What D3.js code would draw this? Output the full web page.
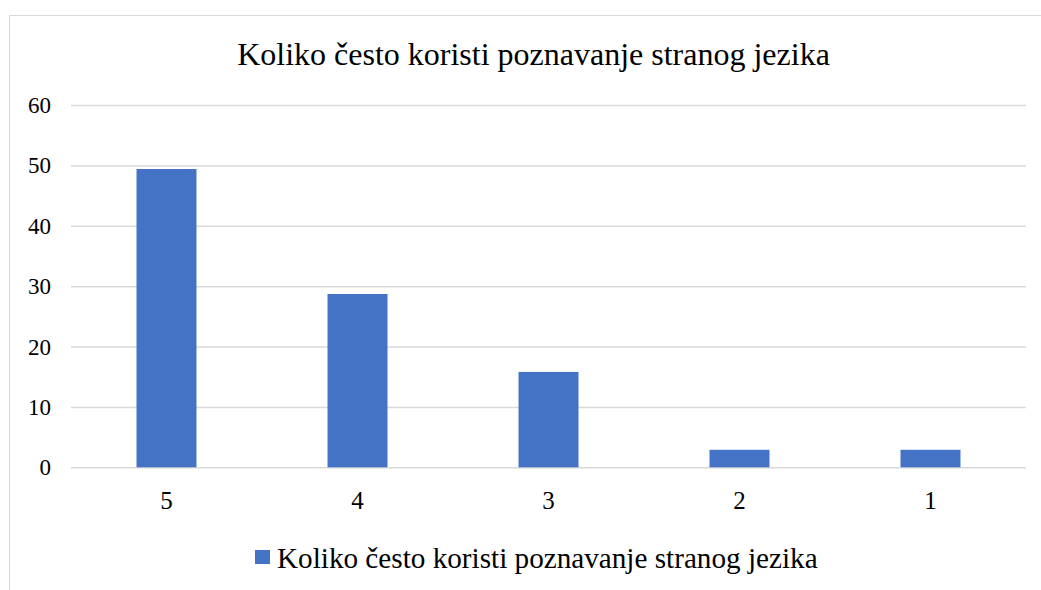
<!DOCTYPE html>
<html><head><meta charset="utf-8">
<script src="https://cdn.jsdelivr.net/npm/d3@7"></script>
<style>body{margin:0;background:#fff}svg{display:block}</style>
</head><body>
<script>
const title = "Koliko često koristi poznavanje stranog jezika";
const categories = ["5","4","3","2","1"];
const values = [49.4, 28.7, 15.8, 2.9, 2.9];
const yTicks = [0,10,20,30,40,50,60];
const seriesName = "Koliko često koristi poznavanje stranog jezika";

(function(){
const W = 1041, H = 590;
const svg = d3.select("body").append("svg").attr("width", W).attr("height", H);
const font = "'Liberation Serif','Times New Roman',serif";

svg.append("path").attr("d", `M9.5,${H} L9.5,15.5 L${W},15.5`).attr("fill","none").attr("stroke","#d9d9d9").attr("stroke-width",1);

const pL = 71, pR = 1026, pT = 105, pB = 467.3;
const x = d3.scaleBand().domain(categories).range([pL, pR]).paddingInner(0.686).paddingOuter(0.343);
const y = d3.scaleLinear().domain([0,60]).range([pB, pT]);

const yAxis = svg.append("g").attr("transform", `translate(${pL},0)`)
  .call(d3.axisLeft(y).tickValues(yTicks).tickSize(-(pR-pL)).tickPadding(20));
yAxis.select(".domain").remove();
yAxis.selectAll("line").attr("stroke","#d9d9d9").attr("stroke-width",1.5);
yAxis.selectAll("text").attr("font-family",font).attr("font-size",23).attr("fill","#000").attr("dy","0.33em");

svg.selectAll("rect.bar").data(values).join("rect").attr("class","bar")
  .attr("x",(d,i)=>x(categories[i])).attr("width",x.bandwidth())
  .attr("y",d=>y(d)).attr("height",d=>pB-y(d))
  .attr("fill","#4472C4");

const xAxis = svg.append("g").attr("transform", `translate(0,${pB})`)
  .call(d3.axisBottom(x).tickSize(0).tickPadding(24));
xAxis.select(".domain").remove();
xAxis.selectAll("text").attr("font-family",font).attr("font-size",25).attr("fill","#000");

svg.append("text").attr("x",533.5).attr("y",65).attr("text-anchor","middle")
  .attr("font-family",font).attr("font-size",32).attr("fill","#000").text(title);

const lg = svg.append("g");
lg.append("rect").attr("x",255).attr("y",550).attr("width",15).attr("height",14).attr("fill","#4472C4");
lg.append("text").attr("x",277).attr("y",568).attr("font-family",font).attr("font-size",29.2).attr("fill","#000").text(seriesName);
})();
</script>
</body></html>
